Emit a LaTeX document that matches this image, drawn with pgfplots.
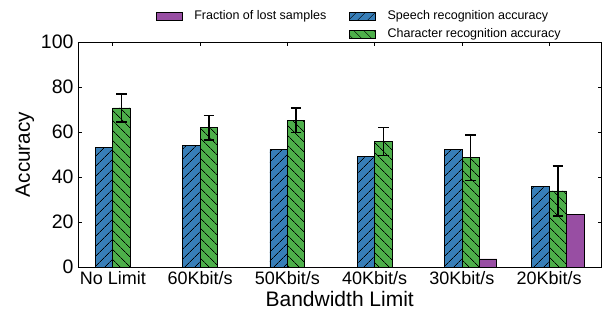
\documentclass[border=0pt]{standalone}
\usepackage{fontspec}
\setmainfont{Liberation Sans}
\usepackage{pgfplots}
\pgfplotsset{compat=1.18}
\usepackage{pgfplotstable}
\usetikzlibrary{patterns.meta}
\definecolor{cblue}{HTML}{377EB8}
\definecolor{cgreen}{HTML}{4DAF4A}
\definecolor{cpurple}{HTML}{984EA3}

\pgfplotstableread{
x speech character err lost
0 53.0 70.7 6.2 0
1 53.9 61.9 5.5 0
2 52.3 65.2 5.5 0
3 49.3 55.8 6.2 0
4 52.3 48.6 10.1 3.6
5 35.9 33.8 11.2 23.4
}\datatable

\tikzset{
  speechstyle/.style={fill=cblue, draw=black, line width=0.8bp,
    postaction={pattern={Lines[angle=45,distance=6.8bp,line width=0.6bp]}, pattern color=black}},
  charstyle/.style={fill=cgreen, draw=black, line width=0.8bp,
    postaction={pattern={Lines[angle=-45,distance=6.8bp,line width=0.6bp]}, pattern color=black}},
  loststyle/.style={fill=cpurple, draw=black, line width=0.8bp},
}

\begin{document}
\begin{tikzpicture}
\path[use as bounding box] (-78bp,-44bp) rectangle (525bp,267bp);
\begin{axis}[
  scale only axis,
  width=523.5bp, height=225bp,
  xmin=-0.4, xmax=5.6, ymin=0, ymax=100,
  ybar, bar width=0.2,
  xtick={0,1,2,3,4,5},
  xticklabels={No Limit,60Kbit/s,50Kbit/s,40Kbit/s,30Kbit/s,20Kbit/s},
  ytick={0,20,40,60,80,100},
  tick align=inside,
  major tick length=4bp,
  axis line style={line width=0.8bp},
  tick style={black, line width=0.8bp},
  /pgf/number format/assume math mode=true,
  xticklabel style={font=\fontsize{18bp}{21bp}\selectfont, yshift=-1bp},
  yticklabel style={font=\fontsize{19.5bp}{23bp}\selectfont, xshift=-1bp},
  xlabel={Bandwidth Limit},
  ylabel={Accuracy},
  xlabel style={font=\fontsize{21bp}{25bp}\selectfont},
  ylabel style={font=\fontsize{20.7bp}{25bp}\selectfont},
  legend columns=2,
  legend cell align=left,
  legend style={draw=none, fill=none, inner sep=0pt, outer sep=0pt,
    at={(0.149,1)}, anchor=south west, yshift=2bp,
    font=\fontsize{12.5bp}{14bp}\selectfont,
    nodes={inner sep=0bp, text height=9bp, text depth=2.5bp},
    row sep=6.5bp,
    /tikz/every odd column/.append style={column sep=11.5bp},
    /tikz/every even column/.append style={column sep=23bp}},
  legend image code/.code={\draw[#1] (0bp,-4bp) rectangle (26bp,4bp);},
]
\addlegendimage{loststyle}
\addlegendentry{Fraction of lost samples}
\addlegendimage{speechstyle}
\addlegendentry{Speech recognition accuracy}
\addlegendimage{empty legend}
\addlegendentry{}
\addlegendimage{charstyle}
\addlegendentry{Character recognition accuracy}

\addplot[speechstyle, bar shift=-0.1, forget plot] table[x=x, y=speech] {\datatable};
\addplot[charstyle, bar shift=0.1, forget plot,
  error bars/.cd, y dir=both, y explicit,
  error bar style={line width=1.6bp, black},
  error mark options={rotate=90, mark size=5.3bp, line width=1.6bp, black}]
  table[x=x, y=character, y error=err] {\datatable};
\addplot[loststyle, bar shift=0.3, forget plot] table[x=x, y=lost] {\datatable};
\end{axis}
\end{tikzpicture}
\end{document}
